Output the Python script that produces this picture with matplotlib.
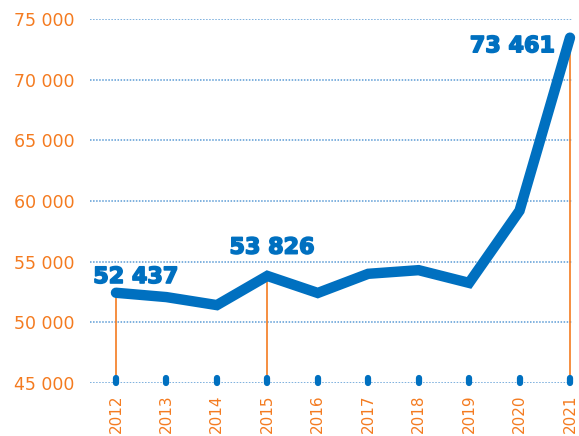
import matplotlib
matplotlib.use("Agg")
import matplotlib.pyplot as plt
import matplotlib.patheffects as pe

years = [2012, 2013, 2014, 2015, 2016, 2017, 2018, 2019, 2020, 2021]
values = [52437, 52080, 51420, 53826, 52420, 54000, 54300, 53250, 59200, 73461]
labelled_years = [2012, 2015, 2021]
label_texts = ["52 437", "53 826", "73 461"]
yticks = [45000, 50000, 55000, 60000, 65000, 70000, 75000]
ytick_labels = ["45 000", "50 000", "55 000", "60 000", "65 000", "70 000", "75 000"]

BLUE = "#0070C0"
ORANGE = "#F47B20"
GRID = "#5B9BD5"

plt.rcParams['font.family'] = ['DejaVu Sans']

fig = plt.figure(figsize=(5.79, 4.36), dpi=100)
ax = fig.add_axes([90/579, (436-383)/436, (572-90)/579, (383-19)/436])
ax.set_xlim(2011.485, 2021.04)
ax.set_ylim(45000, 75000)

for s in ax.spines.values():
    s.set_visible(False)

for yv in yticks:
    ax.axhline(yv, color=GRID, lw=1.1, ls=(0, (1, 1)), zorder=1)

# orange leader lines
for yr in labelled_years:
    v = values[years.index(yr)]
    ax.plot([yr, yr], [45000, v], color=ORANGE, lw=1.2, zorder=2, clip_on=False)

# blue tick markers
ax.vlines(years, 45000, 45400, color=BLUE, lw=4.5, capstyle='round', zorder=3, clip_on=False)

ax.plot(years, values, color=BLUE, lw=7.5, solid_capstyle='round', solid_joinstyle='miter', zorder=4, clip_on=False)

# data labels
offsets = {2012: (-0.45, 1300, 'left'), 2015: (-0.75, 2330, 'left'), 2021: (-0.3, -700, 'right')}
for yr, txt in zip(labelled_years, label_texts):
    v = values[years.index(yr)]
    dx, dy, ha = offsets[yr]
    ax.text(yr + dx, v + dy, txt, color=BLUE, fontsize=16, fontweight='bold', ha=ha, va='center', zorder=5,
            path_effects=[pe.withStroke(linewidth=1.2, foreground=BLUE)])

ax.set_yticks(yticks)
ax.set_yticklabels(ytick_labels)
ax.set_xticks(years)
ax.set_xticklabels([str(y) for y in years], rotation=90)
ax.tick_params(axis='y', length=0, pad=11, labelsize=12.5, labelcolor=ORANGE)
ax.tick_params(axis='x', length=0, pad=8.5, labelsize=11, labelcolor=ORANGE)

fig.savefig("out.png", dpi=100)
